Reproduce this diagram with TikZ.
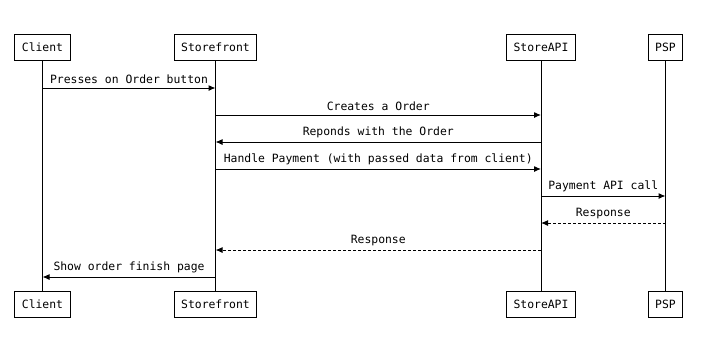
\documentclass[tikz,border=0pt]{standalone}
\usepackage{fontspec}
\setmonofont{DejaVu Sans Mono}
\usepackage{tikz}
\usetikzlibrary{arrows.meta,positioning}

\begin{document}
\begin{tikzpicture}[
  x=1pt, y=-1pt,
  font=\ttfamily\fontsize{11.4}{13}\selectfont,
  >={Latex[length=7pt,width=6pt]},
  actor/.style={draw, line width=1pt, fill=white, minimum height=26pt, inner xsep=7pt, inner ysep=0pt, anchor=center},
  life/.style={line width=1pt},
  msg/.style={->, line width=1pt},
  reply/.style={msg, dash pattern=on 3pt off 2pt},
  lbl/.style={above, inner sep=3.5pt}
]
\useasboundingbox (0,0) rectangle (728,338);

% participants, top and bottom
\node[actor] (client)  at (42.5,47)  {Client};
\node[actor] (store)   at (215.5,47) {Storefront};
\node[actor] (api)     at (541,47)   {StoreAPI};
\node[actor] (psp)     at (665.5,47) {PSP};
\node[actor] (clientB) at (42.5,304)  {Client};
\node[actor] (storeB)  at (215.5,304) {Storefront};
\node[actor] (apiB)    at (541,304)   {StoreAPI};
\node[actor] (pspB)    at (665.5,304) {PSP};

% lifelines
\draw[life] (client) -- (clientB);
\draw[life] (store) -- (storeB);
\draw[life] (api) -- (apiB);
\draw[life] (psp) -- (pspB);

% message rows
\coordinate (m1) at (0,88);
\coordinate (m2) at (0,115);
\coordinate (m3) at (0,142);
\coordinate (m4) at (0,169);
\coordinate (m5) at (0,196);
\coordinate (m6) at (0,223);
\coordinate (m7) at (0,250);
\coordinate (m8) at (0,277);

\draw[msg] (client |- m1) -- node[lbl] {Presses on Order button} (store |- m1);
\draw[msg] (store |- m2) -- node[lbl] {Creates a Order} (api |- m2);
\draw[msg] (api |- m3) -- node[lbl] {Reponds with the Order} (store |- m3);
\draw[msg] (store |- m4) -- node[lbl] {Handle Payment (with passed data from client)} (api |- m4);
\draw[msg] (api |- m5) -- node[lbl] {Payment API call} (psp |- m5);
\draw[reply] (psp |- m6) -- node[lbl] {Response} (api |- m6);
\draw[reply] (api |- m7) -- node[lbl] {Response} (store |- m7);
\draw[msg] (store |- m8) -- node[lbl] {Show order finish page} (client |- m8);
\end{tikzpicture}
\end{document}
